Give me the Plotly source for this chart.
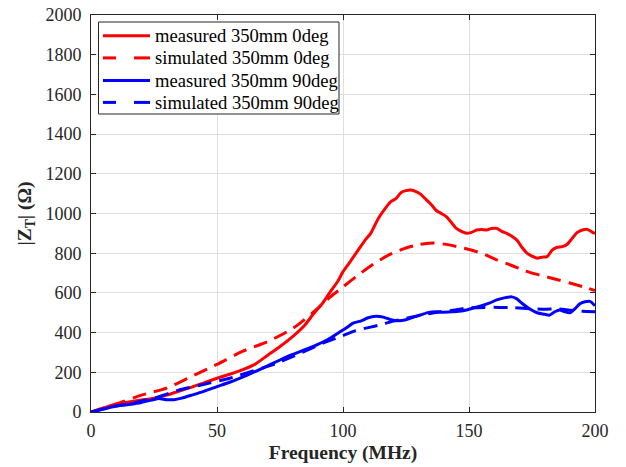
import plotly.graph_objects as go

# measured 350mm 0deg
f_meas0 = [0, 5, 10, 15, 20, 25, 30, 35, 40, 45, 50, 55, 60, 65, 70, 75, 80, 85, 88, 92, 95, 98, 100, 103, 106,
           109, 111, 114, 117, 119, 121, 123, 125, 127, 129, 131, 133, 135, 137, 139, 141, 143, 145, 147, 149,
           151, 153, 155, 157, 159, 161, 163, 165, 167, 169, 171, 173, 175, 177, 179, 181, 183, 185, 187, 189,
           191, 193, 195, 197, 199, 200]
z_meas0 = [0, 20, 40, 50, 60, 70, 85, 105, 125, 148, 170, 190, 212, 240, 285, 330, 380, 440, 490, 550, 606, 660,
           707, 760, 815, 870, 900, 975, 1030, 1060, 1075, 1105, 1115, 1118, 1110, 1095, 1070, 1045, 1015, 1000,
           984, 955, 925, 910, 900, 905, 917, 920, 917, 925, 925, 910, 900, 885, 866, 830, 800, 785, 775, 780,
           783, 815, 830, 833, 845, 876, 905, 917, 920, 905, 900]

# simulated 350mm 0deg
f_sim0 = [0, 10, 20, 30, 40, 50, 60, 70, 80, 88, 95, 100, 106, 112, 118, 124, 130, 136, 142, 148, 155, 161,
          167, 172, 178, 184, 190, 195, 200]
z_sim0 = [0, 40, 85, 120, 180, 240, 305, 354, 420, 500, 580, 630, 690, 745, 790, 822, 843, 852, 842, 825, 800,
          766, 738, 712, 690, 670, 650, 632, 612]

# measured 350mm 90deg
f_meas90 = [0, 5, 10, 15, 20, 24, 27, 30, 33, 36, 40, 45, 50, 55, 62, 68, 75, 80, 88, 94, 99, 102, 104, 107,
            110, 113, 116, 119, 122, 125, 128, 131, 134, 137, 140, 143, 146, 149, 152, 155, 158, 161, 164, 167,
            169, 171, 174, 177, 180, 182, 184, 186, 188, 190, 192, 194, 196, 198, 200]
z_meas90 = [0, 15, 30, 38, 48, 60, 68, 62, 62, 70, 85, 105, 128, 150, 186, 220, 262, 290, 329, 365, 405, 430,
            448, 458, 475, 482, 478, 465, 460, 465, 478, 490, 502, 505, 503, 505, 508, 514, 525, 535, 548, 565,
            575, 580, 570, 548, 520, 500, 492, 488, 505, 514, 505, 500, 520, 545, 555, 557, 535]

# simulated 350mm 90deg
f_sim90 = [0, 10, 15, 20, 25, 30, 35, 45, 55, 65, 72, 82, 92, 100, 105, 110, 115, 120, 128, 134, 139, 145, 150,
           156, 162, 168, 175, 180, 185, 190, 195, 200]
z_sim90 = [0, 30, 40, 55, 70, 90, 111, 140, 170, 210, 237, 290, 347, 385, 410, 425, 440, 458, 480, 495, 505,
           515, 524, 527, 527, 525, 520, 518, 520, 513, 507, 505]

series_names = ["measured 350mm 0deg", "simulated 350mm 0deg", "measured 350mm 90deg", "simulated 350mm 90deg"]
series_colors = ["#ff0000", "#ff0000", "#0000ff", "#0000ff"]
series_dashed = [False, True, False, True]

x_ticks = [0, 50, 100, 150, 200]
y_ticks = list(range(0, 2001, 200))

FONT = "Liberation Serif"
DASH = "14px,8px"
INK = "#262626"

fig = go.Figure()
for (fx, zy), name, col, dashed in zip([(f_meas0, z_meas0), (f_sim0, z_sim0), (f_meas90, z_meas90),
                                        (f_sim90, z_sim90)], series_names, series_colors, series_dashed):
    fig.add_trace(go.Scatter(x=fx, y=zy, mode="lines", name=name, showlegend=False,
                             line=dict(color=col, width=3, dash=DASH if dashed else "solid",
                                       shape="spline", smoothing=0.6)))

axis_common = dict(showline=True, linecolor=INK, linewidth=1, mirror="ticks", ticks="inside",
                   ticklen=5, tickcolor=INK, showgrid=True, gridcolor="#dfdfdf", gridwidth=1,
                   zeroline=False, automargin=False, ticklabeloverflow="allow",
                   tickfont=dict(family=FONT, size=18, color=INK))

fig.update_xaxes(range=[0, 200], tickvals=x_ticks, ticklabelstandoff=2,
                 title=dict(text="<b>Frequency (MHz)</b>", font=dict(family=FONT, size=19.5, color=INK),
                            standoff=5),
                 **axis_common)
fig.update_yaxes(range=[0, 2000], tickvals=y_ticks, ticklabelstandoff=5,
                 title=dict(text="<b>|Z<sub>T</sub>| (Ω)</b>", font=dict(family=FONT, size=19.5, color=INK),
                            standoff=8),
                 **axis_common)

# Legend drawn as a framed box (screen-pixel layout of the plot area: left 91, right 595, top 15, bottom 412)
PL, PW, PB, PH = 91.0, 504.0, 412.0, 397.0


def px(xs):
    return (xs - PL) / PW


def py(ys):
    return (PB - ys) / PH


shapes = [dict(type="rect", xref="paper", yref="paper", x0=px(98.5), x1=px(339), y0=py(114), y1=py(22),
               line=dict(color=INK, width=1), fillcolor="white", layer="above")]
annotations = []
row_y = [35.7, 57.9, 80.4, 102.4]
for ry, name, col, dashed in zip(row_y, series_names, series_colors, series_dashed):
    if dashed:
        segs = [(103, 116), (134, 150)]
    else:
        segs = [(103, 150)]
    for a, b in segs:
        shapes.append(dict(type="line", xref="paper", yref="paper", x0=px(a), x1=px(b), y0=py(ry), y1=py(ry),
                           line=dict(color=col, width=3), layer="above"))
    annotations.append(dict(xref="paper", yref="paper", x=px(153), y=py(ry), xanchor="left", yanchor="middle",
                            text=name, showarrow=False, font=dict(family=FONT, size=18.6, color="#000000")))

fig.update_layout(
    width=626, height=467,
    margin=dict(l=83, r=39, t=7, b=63, autoexpand=False),
    paper_bgcolor="white", plot_bgcolor="white",
    font=dict(family=FONT, color=INK),
    shapes=shapes,
    annotations=annotations,
    showlegend=False,
)

fig.write_html("out.html")
